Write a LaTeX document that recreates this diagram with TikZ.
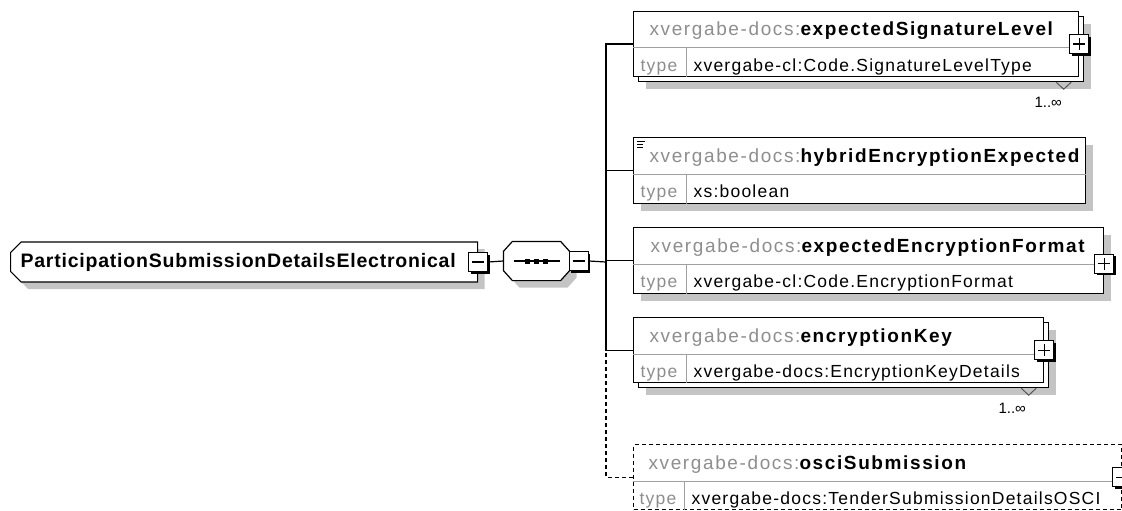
\documentclass[tikz,border=0pt]{standalone}
\usepackage{fontspec}
\setmainfont{Liberation Sans}
\newfontfamily\headfont[LetterSpace=8.5]{Liberation Sans}
\newfontfamily\typefont[LetterSpace=7]{Liberation Sans}
\newfontfamily\rootfont[LetterSpace=4]{Liberation Sans}
\usetikzlibrary{positioning,shapes.misc,shadows,calc}
\definecolor{NsGray}{HTML}{8E8E8E}
\definecolor{DivGray}{HTML}{A0A0A0}
\definecolor{ShadowGray}{HTML}{C4C4C4}
\definecolor{OccGray}{HTML}{555555}
\newcommand{\nsp}[1]{\textcolor{NsGray}{#1}}

\begin{document}
\begin{tikzpicture}[
  x=1pt, y=-1pt,
  line width=1.2pt,
  shade/.style={
    drop shadow={shadow xshift=7pt, shadow yshift=-7pt, fill=ShadowGray, opacity=1}
  },
  elem/.style={
    draw,
    fill=white,
    anchor=north west,
    minimum height=65pt,
    inner sep=0pt
  },
  backframe/.style={elem, shade},
  optelem/.style={elem, dash pattern=on 4pt off 3pt},
  rootbox/.style={
    chamfered rectangle,
    chamfered rectangle corners={north west,south west},
    chamfered rectangle xsep=7pt,
    draw,
    fill=white,
    shade,
    anchor=west,
    minimum height=40pt,
    text width=447pt,
    align=left,
    inner xsep=3pt,
    inner ysep=0pt,
    font=\rootfont\bfseries\fontsize{19.5}{21}\selectfont
  },
  seqbox/.style={
    minimum width=65pt,
    minimum height=38pt,
    inner sep=0pt
  },
  expander/.style={
    draw,
    fill=white,
    minimum size=19pt,
    inner sep=0pt,
    drop shadow={shadow xshift=2pt, shadow yshift=-2pt, fill=black, opacity=1}
  },
  head/.style={anchor=base west, inner sep=0pt, font=\headfont\fontsize{19}{21}\selectfont},
  tlabel/.style={anchor=base west, inner sep=0pt, text=NsGray, font=\typefont\fontsize{17.5}{19}\selectfont},
  tval/.style={anchor=base west, inner sep=0pt, font=\typefont\fontsize{17.5}{19}\selectfont},
  div/.style={DivGray, line width=1pt},
  occ/.style={inner sep=0pt, font=\fontsize{15}{16}\selectfont},
  chev/.style={OccGray, line width=1pt}
]
\useasboundingbox (0,0) rectangle (1122,511);

% ---------------------------------------------------------
% root element and sequence compositor
% ---------------------------------------------------------

\node[rootbox] (root) at (10,262) {ParticipationSubmissionDetailsElectronical};
\node[expander] (rootx) at (root.east) {};
\draw ([xshift=4pt]rootx.west) -- ([xshift=-4pt]rootx.east);

\node[seqbox] (seq) at (536.5,261) {};
\draw[fill=white, shade]
  ([xshift=9pt]seq.north west) -- ([xshift=-9pt]seq.north east)
  -- ([yshift=-10pt]seq.north east) -- ([yshift=10pt]seq.south east)
  -- ([xshift=-9pt]seq.south east) -- ([xshift=9pt]seq.south west)
  -- ([yshift=10pt]seq.south west) -- ([yshift=-10pt]seq.north west) -- cycle;
\draw ([xshift=-23pt]seq.center) -- ([xshift=23pt]seq.center);
\foreach \dx in {-9,0,9}
  \fill ([xshift=\dx pt]seq.center) +(-2.5,-2.5) rectangle +(2.5,2.5);

\node[expander, anchor=west] (seqx) at ([xshift=-1pt]seq.east) {};
\draw ([xshift=4pt]seqx.west) -- ([xshift=-4pt]seqx.east);

\coordinate (trunk) at (606,262);

% ---------------------------------------------------------
% expectedSignatureLevel (1..unbounded)
% ---------------------------------------------------------

\node[backframe, minimum width=445pt] (sigback) at (638,16) {};
\node[elem, minimum width=445pt] (sig) at (633,11) {};
\draw[div] ([yshift=-37pt]sig.north west) -- ([yshift=-37pt]sig.north east);
\draw[div] ([xshift=53pt,yshift=-37pt]sig.north west) -- ([xshift=53pt]sig.south west);
\node[head] (sighd) at ([xshift=16pt,yshift=-25pt]sig.north west)
  {\nsp{xvergabe-docs:}\textbf{expectedSignatureLevel}};
\node[tlabel] (sigtl) at ([xshift=7pt,yshift=-60pt]sig.north west) {type};
\node[tval] (sigty) at ([xshift=60pt,yshift=-60pt]sig.north west) {xvergabe-cl:Code.SignatureLevelType};
\node[expander] (sigx) at (sig.east) {};
\draw ([xshift=4pt]sigx.west) -- ([xshift=-4pt]sigx.east);
\draw ([yshift=-4pt]sigx.north) -- ([yshift=4pt]sigx.south);
\draw[chev] ([xshift=-28pt]sigback.south east) -- ([xshift=-20.5pt,yshift=-7pt]sigback.south east)
  -- ([xshift=-13pt]sigback.south east);
\node[occ] (sigocc) at ([xshift=-36pt,yshift=-20pt]sigback.south east) {1..∞};

% ---------------------------------------------------------
% hybridEncryptionExpected
% ---------------------------------------------------------

\node[elem, shade, minimum width=452pt, minimum height=66pt] (hyb) at (633,137) {};
\draw[div] ([yshift=-37pt]hyb.north west) -- ([yshift=-37pt]hyb.north east);
\draw[div] ([xshift=53pt,yshift=-37pt]hyb.north west) -- ([xshift=53pt]hyb.south west);
\foreach \dy/\len in {4/8,7/6,10/6}
  \draw[line width=0.8pt] ([xshift=4pt,yshift=-\dy pt]hyb.north west) -- ++(\len,0);
\node[head] (hybhd) at ([xshift=16pt,yshift=-25pt]hyb.north west)
  {\nsp{xvergabe-docs:}\textbf{hybridEncryptionExpected}};
\node[tlabel] (hybtl) at ([xshift=7pt,yshift=-60pt]hyb.north west) {type};
\node[tval] (hybty) at ([xshift=60pt,yshift=-60pt]hyb.north west) {xs:boolean};

% ---------------------------------------------------------
% expectedEncryptionFormat
% ---------------------------------------------------------

\node[elem, shade, minimum width=470pt, minimum height=66pt] (fmt) at (633,227) {};
\draw[div] ([yshift=-37pt]fmt.north west) -- ([yshift=-37pt]fmt.north east);
\draw[div] ([xshift=53pt,yshift=-37pt]fmt.north west) -- ([xshift=53pt]fmt.south west);
\node[head] (fmthd) at ([xshift=17pt,yshift=-25pt]fmt.north west)
  {\nsp{xvergabe-docs:}\textbf{expectedEncryptionFormat}};
\node[tlabel] (fmttl) at ([xshift=7pt,yshift=-60pt]fmt.north west) {type};
\node[tval] (fmtty) at ([xshift=60pt,yshift=-60pt]fmt.north west) {xvergabe-cl:Code.EncryptionFormat};
\node[expander] (fmtx) at ([yshift=-3pt]fmt.east) {};
\draw ([xshift=4pt]fmtx.west) -- ([xshift=-4pt]fmtx.east);
\draw ([yshift=-4pt]fmtx.north) -- ([yshift=4pt]fmtx.south);

% ---------------------------------------------------------
% encryptionKey (1..unbounded)
% ---------------------------------------------------------

\node[backframe, minimum width=410pt] (keyback) at (638,322) {};
\node[elem, minimum width=410pt] (key) at (633,317) {};
\draw[div] ([yshift=-37pt]key.north west) -- ([yshift=-37pt]key.north east);
\draw[div] ([xshift=53pt,yshift=-37pt]key.north west) -- ([xshift=53pt]key.south west);
\node[head] (keyhd) at ([xshift=16pt,yshift=-25pt]key.north west)
  {\nsp{xvergabe-docs:}\textbf{encryptionKey}};
\node[tlabel] (keytl) at ([xshift=7pt,yshift=-60pt]key.north west) {type};
\node[tval] (keyty) at ([xshift=60pt,yshift=-60pt]key.north west) {xvergabe-docs:EncryptionKeyDetails};
\node[expander] (keyx) at (key.east) {};
\draw ([xshift=4pt]keyx.west) -- ([xshift=-4pt]keyx.east);
\draw ([yshift=-4pt]keyx.north) -- ([yshift=4pt]keyx.south);
\draw[chev] ([xshift=-28pt]keyback.south east) -- ([xshift=-20.5pt,yshift=-7pt]keyback.south east)
  -- ([xshift=-13pt]keyback.south east);
\node[occ] (keyocc) at ([xshift=-37pt,yshift=-20pt]keyback.south east) {1..∞};

% ---------------------------------------------------------
% osciSubmission (optional)
% ---------------------------------------------------------

\node[optelem, minimum width=488pt] (osci) at (633,444) {};
\draw[div] ([yshift=-37pt]osci.north west) -- ([yshift=-37pt]osci.north east);
\draw[div] ([xshift=51pt,yshift=-37pt]osci.north west) -- ([xshift=51pt]osci.south west);
\node[head] (oscihd) at ([xshift=15pt,yshift=-25pt]osci.north west)
  {\nsp{xvergabe-docs:}\textbf{osciSubmission}};
\node[tlabel] (oscitl) at ([xshift=6pt,yshift=-60pt]osci.north west) {type};
\node[tval] (osciy) at ([xshift=58pt,yshift=-60pt]osci.north west) {xvergabe-docs:TenderSubmissionDetailsOSCI};
\node[expander] (oscix) at (osci.east) {};
\draw ([xshift=4pt]oscix.west) -- ([xshift=-4pt]oscix.east);
\draw ([yshift=-4pt]oscix.north) -- ([yshift=4pt]oscix.south);

% ---------------------------------------------------------
% connectors
% ---------------------------------------------------------

\draw (rootx.east) -- (seq.west);
\draw (seqx.east) -- (trunk);
\draw (sig.west) -| (trunk);
\draw (hyb.west) -- (trunk |- hyb.west);
\draw (fmt.west) -- (trunk |- fmt.west);
\draw (key.west) -| (trunk);
\draw[dash pattern=on 4pt off 3pt] (osci.west) -| (trunk |- key.west);

\end{tikzpicture}
\end{document}
